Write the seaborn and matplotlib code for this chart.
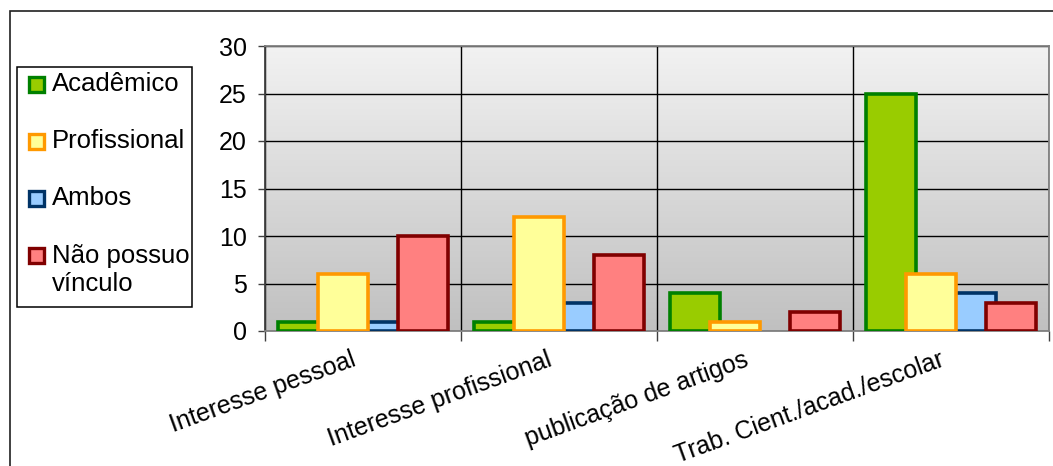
import numpy as np
import pandas as pd
import matplotlib
matplotlib.use("Agg")
import matplotlib.pyplot as plt
import matplotlib.transforms as mtransforms
from matplotlib.colors import LinearSegmentedColormap
from matplotlib.patches import Rectangle
import seaborn as sns

# Data
categories = ["Interesse pessoal", "Interesse profissional",
              "publicação de artigos", "Trab. Cient./acad./escolar"]
series = ["Acadêmico", "Profissional", "Ambos", "Não possuo vínculo"]
academico = [1, 1, 4, 25]
profissional = [6, 12, 1, 6]
ambos = [1, 3, 0, 4]
nao_possuo = [10, 8, 2, 3]

face_colors = ["#99CC00", "#FFFF99", "#99CCFF", "#FF8080"]
edge_colors = ["#008000", "#FF9900", "#003366", "#800000"]

W, H = 1053, 466

def fx(x):
    return x / W

def fy(y):
    return 1 - y / H

sns.set_style("white")
plt.rcParams['font.family'] = ['Liberation Sans', 'DejaVu Sans']
plt.rcParams['text.color'] = 'black'
plt.rcParams['xtick.color'] = 'black'
plt.rcParams['ytick.color'] = 'black'

df = pd.DataFrame({
    "categoria": categories * 4,
    "serie": sum([[s] * 4 for s in series], []),
    "valor": academico + profissional + ambos + nao_possuo,
})

fig = plt.figure(figsize=(W / 100, H / 100), dpi=100)
ax = fig.add_axes([fx(265), fy(331), fx(1049) - fx(265), fy(46) - fy(331)])

# gradient background of the plot area
grad = np.linspace(0, 1, 256).reshape(-1, 1)
bg_cmap = LinearSegmentedColormap.from_list("bg", ["#f2f2f2", "#c0c0c0"])
ax.imshow(grad, cmap=bg_cmap, aspect="auto", extent=[0, 1, 0, 1],
          transform=ax.transAxes, zorder=0)

sns.barplot(data=df, x="categoria", y="valor", hue="serie",
            order=categories, hue_order=series, palette=face_colors,
            width=0.816, saturation=1, legend=False, ax=ax)

# Excel-like overlapping bars: widen and set draw order
bar_w = 0.255
zorders = [3, 5, 4, 5]
for i, cont in enumerate(ax.containers):
    for p in cont.patches:
        cx = p.get_x() + p.get_width() / 2
        p.set_x(cx - bar_w / 2)
        p.set_width(bar_w)
        p.set_edgecolor(edge_colors[i])
        p.set_linewidth(2.6)
        p.set_zorder(zorders[i])
        p.set_joinstyle("miter")
        if p.get_height() == 0:
            p.set_visible(False)

ax.set_xlim(-0.5, 3.5)
ax.set_ylim(0, 30)
ax.set_yticks(range(0, 31, 5))
ax.set_xticks([-0.5, 0.5, 1.5, 2.5, 3.5], minor=True)

ax.grid(axis="y", which="major", color="black", linewidth=1, zorder=1)
ax.grid(axis="x", which="minor", color="black", linewidth=1, zorder=1)
ax.grid(axis="x", which="major", visible=False)
ax.set_axisbelow(True)

for side in ["top", "right", "bottom", "left"]:
    ax.spines[side].set_color("#808080")
    ax.spines[side].set_linewidth(1.3)
ax.spines["left"].set_color("#404040")

ax.tick_params(axis="y", which="major", length=5, width=1, color="#404040",
               labelsize=18, pad=8, left=True, labelcolor="black")
ax.tick_params(axis="x", which="minor", length=7, width=1, color="#404040",
               bottom=True)
ax.tick_params(axis="x", which="major", length=0, pad=12, labelsize=18,
               labelcolor="black")

ax.set_xticks(range(len(categories)))
ax.set_xticklabels(categories, rotation=20, ha="right", rotation_mode="anchor")
shift = mtransforms.ScaledTranslation(-12 / 100, 0, fig.dpi_scale_trans)
for lab in ax.get_xticklabels():
    lab.set_transform(lab.get_transform() + shift)

ax.set_xlabel("")
ax.set_ylabel("")

# legend box drawn in figure coordinates
fig.patches.append(Rectangle((fx(17), fy(307)), fx(192) - fx(17), fy(67) - fy(307),
                             transform=fig.transFigure, fill=False,
                             edgecolor="black", linewidth=1.1))
row_y = [84, 141, 198, 255]
for i, s in enumerate(series):
    fig.patches.append(Rectangle((fx(28.5), fy(row_y[i] + 7.5)), fx(15), 15 / H,
                                 transform=fig.transFigure,
                                 facecolor=face_colors[i],
                                 edgecolor=edge_colors[i], linewidth=2.4))
    if i < 3:
        fig.text(fx(52), fy(row_y[i]), s, fontsize=18.5, ha="left", va="center")
    else:
        fig.text(fx(52), fy(row_y[i] - 11), "Não possuo\nvínculo", fontsize=18.5,
                 ha="left", va="top", linespacing=1.22)

# outer chart frame (cropped at right/bottom in the reference)
fig.patches.append(Rectangle((fx(10), -0.1), 1.2, fy(11) + 0.1,
                             transform=fig.transFigure, fill=False,
                             edgecolor="#202020", linewidth=1.2))

fig.savefig("out.png", dpi=100)
